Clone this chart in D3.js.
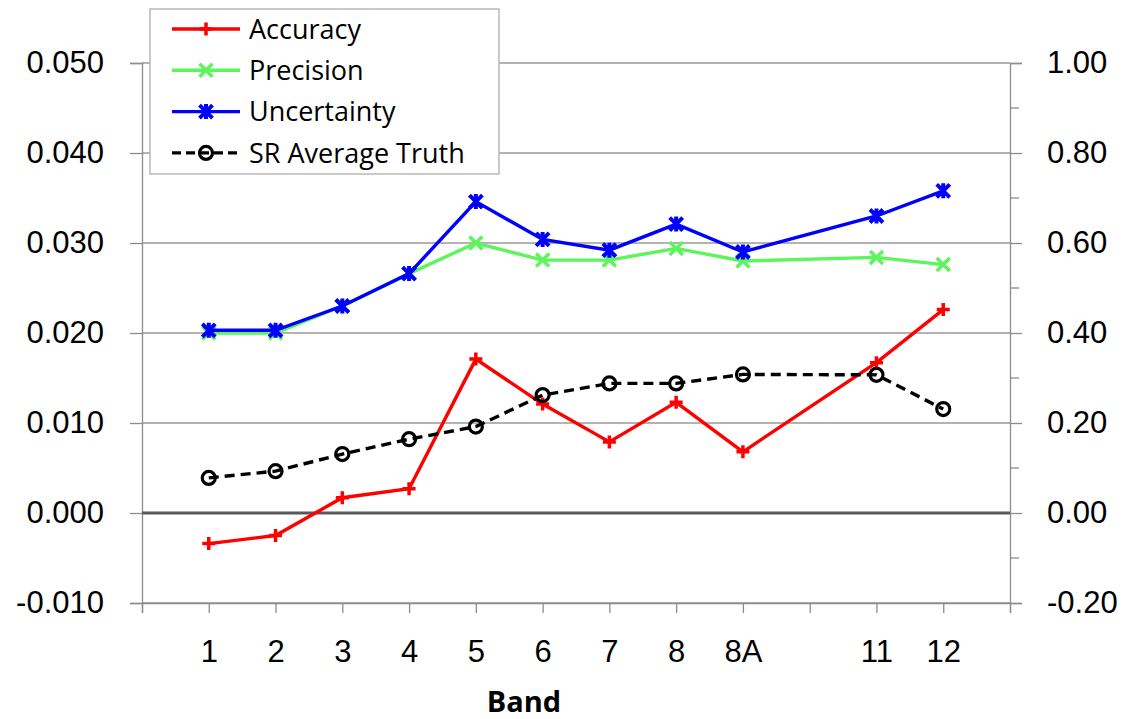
<!DOCTYPE html>
<html>
<head>
<meta charset="utf-8">
<script src="https://cdn.jsdelivr.net/npm/d3@7"></script>
<style>
    body { margin: 0; background: #fff; }
    svg { font-family: "Open Sans", sans-serif; }
    .axis path, .axis line { stroke: #8c8c8c; }
    .axis text { fill: #000; font-size: 31px; }
</style>
</head>
<body>
<div id="chart"></div>
<script>
// x slots: blanks keep the gaps of the original category axis
const categories = ["", "1", "2", "3", "4", "5", "6", "7", "8", "8A", "", "11", "12", ""];
const bands = ["1", "2", "3", "4", "5", "6", "7", "8", "8A", "11", "12"];

const accuracy    = [-0.0034, -0.0025, 0.0017, 0.0027, 0.0171, 0.0121, 0.0079, 0.0123, 0.0068, 0.0167, 0.0226];
const precision   = [0.0200, 0.0200, 0.0230, 0.0266, 0.0300, 0.0281, 0.0281, 0.0294, 0.0280, 0.0284, 0.0276];
const uncertainty = [0.0203, 0.0203, 0.0230, 0.0266, 0.0346, 0.0304, 0.0292, 0.0321, 0.0290, 0.0330, 0.0358];
const srTruth     = [0.078, 0.093, 0.131, 0.164, 0.192, 0.262, 0.288, 0.288, 0.308, 0.307, 0.231];

const leftTicks  = [-0.010, 0.000, 0.010, 0.020, 0.030, 0.040, 0.050];
const rightTicks = [-0.20, 0.00, 0.20, 0.40, 0.60, 0.80, 1.00];
const rightMinor = [-0.10, 0.10, 0.30, 0.50, 0.70, 0.90];

const margin = {top: 63, right: 122, bottom: 116, left: 142};
const svgWidth = 1132, svgHeight = 719;
const width = svgWidth - margin.left - margin.right,
      height = svgHeight - margin.top - margin.bottom;

const hyphen = f => d => f(d).replace("\u2212", "-");

const x = d3.scalePoint()
    .domain(d3.range(categories.length))
    .range([0, width]);
const yL = d3.scaleLinear().domain([-0.010, 0.050]).range([height, 0]);
const yR = d3.scaleLinear().domain([-0.20, 1.00]).range([height, 0]);

const svg = d3.select("#chart").append("svg")
    .attr("width", svgWidth)
    .attr("height", svgHeight);

const g = svg.append("g")
    .attr("transform", `translate(${margin.left},${margin.top})`);

// gridlines
g.append("g")
    .selectAll("line")
    .data(leftTicks.filter(d => d !== 0))
    .join("line")
    .attr("x1", 0).attr("x2", width)
    .attr("y1", d => yL(d)).attr("y2", d => yL(d))
    .attr("stroke", "#9a9a9a")
    .attr("stroke-width", 1.3);

// axes
g.append("g").attr("class", "axis")
    .call(d3.axisLeft(yL).tickValues(leftTicks).tickSize(12).tickPadding(26)
        .tickFormat(hyphen(d3.format(".3f"))));

const rightAxis = g.append("g").attr("class", "axis")
    .attr("transform", `translate(${width},0)`)
    .call(d3.axisRight(yR).tickValues(rightTicks).tickSize(12).tickPadding(25)
        .tickFormat(hyphen(d3.format(".2f"))));

rightAxis.selectAll(".minor")
    .data(rightMinor)
    .join("line")
    .attr("class", "minor")
    .attr("x1", 0).attr("x2", 9)
    .attr("y1", d => yR(d)).attr("y2", d => yR(d));

g.append("g").attr("class", "axis")
    .attr("transform", `translate(0,${height})`)
    .call(d3.axisBottom(x).tickSize(10).tickPadding(27)
        .tickFormat(i => categories[i]));

g.selectAll(".axis .domain").attr("stroke-width", 1.3);
g.selectAll(".axis line").attr("stroke-width", 1.3);

// zero line
g.append("line")
    .attr("x1", 0).attr("x2", width)
    .attr("y1", yL(0)).attr("y2", yL(0))
    .attr("stroke", "#595959")
    .attr("stroke-width", 3);

// axis title
svg.append("text")
    .attr("x", 524).attr("y", 712)
    .attr("text-anchor", "middle")
    .style("font-size", "29px")
    .style("font-weight", "bold")
    .text("Band");

// series
const xi = i => x(categories.indexOf(bands[i]));

const series = [
    {name: "Accuracy", values: accuracy, y: yL, color: "#ff0000", marker: "plus", dash: null},
    {name: "Precision", values: precision, y: yL, color: "#5cf55c", marker: "cross", dash: null},
    {name: "Uncertainty", values: uncertainty, y: yL, color: "#0000ff", marker: "star", dash: null},
    {name: "SR Average Truth", values: srTruth, y: yR, color: "#000000", marker: "circle", dash: "10,6"}
];

function drawMarker(sel, type, color) {
    const s = 6.5;
    if (type === "plus") {
        sel.append("path").attr("d", `M${-s},0H${s}M0,${-s}V${s}`)
            .attr("stroke", color).attr("stroke-width", 3.5);
    } else if (type === "cross") {
        sel.append("path").attr("d", `M${-s},${-s}L${s},${s}M${-s},${s}L${s},${-s}`)
            .attr("stroke", color).attr("stroke-width", 3.5);
    } else if (type === "star") {
        sel.append("path").attr("d", `M${-s},${-s}L${s},${s}M${-s},${s}L${s},${-s}M0,${-s - 1}V${s + 1}`)
            .attr("stroke", color).attr("stroke-width", 4);
    } else {
        sel.append("circle").attr("r", 6.5)
            .attr("fill", "none").attr("stroke", color).attr("stroke-width", 3.2);
    }
}

series.forEach(s => {
    const line = d3.line()
        .x((d, i) => xi(i))
        .y(d => s.y(d));

    g.append("path")
        .datum(s.values)
        .attr("d", line)
        .attr("fill", "none")
        .attr("stroke", s.color)
        .attr("stroke-width", 3.4)
        .attr("stroke-dasharray", s.dash);

    s.values.forEach((v, i) => {
        const m = g.append("g").attr("transform", `translate(${xi(i)},${s.y(v)})`);
        drawMarker(m, s.marker, s.color);
    });
});

// legend
const legend = svg.append("g").attr("transform", "translate(150,9)");
legend.append("rect")
    .attr("width", 349).attr("height", 165)
    .attr("fill", "#fff")
    .attr("stroke", "#b8b8b8")
    .attr("stroke-width", 1.5);

series.forEach((s, i) => {
    const row = legend.append("g").attr("transform", `translate(0,${20 + i * 41.3})`);
    row.append("line")
        .attr("x1", 22).attr("x2", 90)
        .attr("stroke", s.color)
        .attr("stroke-width", 3.4)
        .attr("stroke-dasharray", s.dash ? "9,5" : null);
    const m = row.append("g").attr("transform", "translate(56,0)");
    drawMarker(m, s.marker, s.color);
    row.append("text")
        .attr("x", 99).attr("dy", "0.36em")
        .style("font-size", "27px")
        .attr("fill", "#000")
        .text(s.name);
});
</script>
</body>
</html>
